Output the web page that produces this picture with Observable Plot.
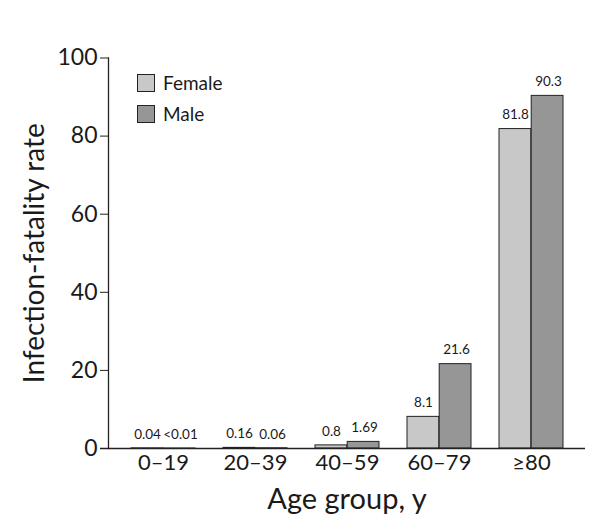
<!DOCTYPE html>
<html>
<head>
<meta charset="utf-8">
<script src="https://cdn.jsdelivr.net/npm/d3@7"></script>
<script src="https://cdn.jsdelivr.net/npm/@observablehq/plot@0.6"></script>
<style>
  html, body { margin: 0; padding: 0; background: #fff; }
  #wrap { position: relative; width: 600px; height: 520px; font-family: Lato, "Open Sans", sans-serif; color: #1a1a1a; }
  #legend { position: absolute; left: 137px; top: 67px; font-size: 19px; }
  .item { display: flex; align-items: center; height: 31px; }
  .sw { width: 18px; height: 18px; box-sizing: border-box; border: 1px solid #222; margin-right: 8px; }
</style>
</head>
<body>
<div id="wrap"><div id="legend"></div></div>
<script>
const ageGroups = ["0–19", "20–39", "40–59", "60–79", "≥80"];
const female = [0.04, 0.16, 0.8, 8.1, 81.8];
const male = [0.005, 0.06, 1.69, 21.6, 90.3];
const femaleLabels = ["0.04", "0.16", "0.8", "8.1", "81.8"];
const maleLabels = ["<0.01", "0.06", "1.69", "21.6", "90.3"];
const yTicks = [0, 20, 40, 60, 80, 100];
const series = ["Female", "Male"];
const colors = ["#c8c8c8", "#969696"];

const femaleRows = ageGroups.map((a, i) => ({age: a, value: female[i], label: femaleLabels[i]}));
const maleRows = ageGroups.map((a, i) => ({age: a, value: male[i], label: maleLabels[i]}));

const half = 32.2;
const ink = "#1a1a1a";

const chart = Plot.plot({
  width: 600,
  height: 520,
  marginLeft: 108,
  marginRight: 15,
  marginTop: 57.5,
  marginBottom: 72,
  style: {fontFamily: "Lato, 'Open Sans', sans-serif", color: ink, background: "transparent"},
  x: {domain: ageGroups, range: [117, 577], paddingInner: 0.3, paddingOuter: 0.15},
  y: {domain: [0, 100]},
  marks: [
    Plot.barY(femaleRows, {x: "age", y: "value", fill: colors[0], stroke: "#222", strokeWidth: 1, insetRight: half}),
    Plot.barY(maleRows, {x: "age", y: "value", fill: colors[1], stroke: "#222", strokeWidth: 1, insetLeft: half}),
    Plot.text(femaleRows, {x: "age", y: "value", text: "label", dx: -16, dy: -14, fontSize: 13.5, fill: ink}),
    Plot.text(maleRows, {x: "age", y: "value", text: "label", dx: 17, dy: -14, fontSize: 13.5, fill: ink}),
    Plot.ruleY([0], {stroke: "#222", strokeWidth: 1.3, insetLeft: -8}),
    Plot.frame({anchor: "left", stroke: "#222", strokeWidth: 1.3}),
    Plot.axisY({ticks: yTicks, tickSize: 8, tickPadding: 3, fontSize: 23, label: null, stroke: "#222"}),
    Plot.axisY({ticks: [], label: "Infection-fatality rate", labelAnchor: "center", labelOffset: 84, labelArrow: false, fontSize: 28}),
    Plot.axisX({tickSize: 0, tickPadding: 6, fontSize: 22, label: null}),
    Plot.axisX({ticks: [], label: "Age group, y", labelAnchor: "center", labelOffset: 60, labelArrow: false, fontSize: 29})
  ]
});
const wrap = document.getElementById("wrap");
wrap.insertBefore(chart, wrap.firstChild);

const legend = document.getElementById("legend");
series.forEach((s, i) => {
  const it = document.createElement("div");
  it.className = "item";
  const sw = document.createElement("div");
  sw.className = "sw";
  sw.style.background = colors[i];
  const t = document.createElement("span");
  t.textContent = s;
  it.appendChild(sw);
  it.appendChild(t);
  legend.appendChild(it);
});
</script>
</body>
</html>
